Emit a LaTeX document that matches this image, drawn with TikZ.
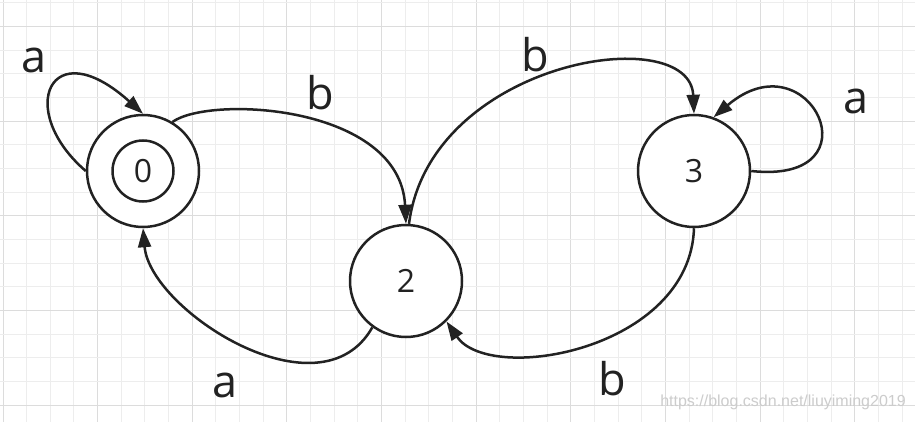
\documentclass[tikz,border=0pt]{standalone}
\usepackage{fontspec}
\setmainfont{Open Sans}
\newfontfamily\wmfont{Liberation Sans}
\usetikzlibrary{arrows.meta}
\definecolor{gridminor}{HTML}{EDEDED}
\definecolor{gridmajor}{HTML}{DCDCDC}
\definecolor{ink}{HTML}{222222}
\definecolor{wmgray}{HTML}{CCCCCC}
\begin{document}
\begin{tikzpicture}[x=1pt,y=-1pt,
  state/.style={circle,draw=ink,line width=2.5pt,fill=white,minimum size=112pt,inner sep=0pt,
    font=\fontsize{32}{32}\selectfont,text=ink},
  accepting/.style={path picture={\draw[ink,line width=2.5pt] (path picture bounding box.center) circle (30.5pt);}},
  edge/.style={draw=ink,line width=2.5pt,-{Triangle[length=19pt,width=13pt]}},
  lbl/.style={font=\fontsize{45}{45}\selectfont,text=ink,inner sep=0pt},
  gridline/.style={line width=1pt}]
\useasboundingbox (0,0) rectangle (915,422);
\fill[white] (0,0) rectangle (915,422);
% grid
\foreach \k in {0,...,38}{
  \pgfmathtruncatemacro\m{mod(\k,4)}
  \ifnum\m=0 \def\gc{gridmajor}\else\def\gc{gridminor}\fi
  \draw[gridline,\gc] ({3+23.66*\k},0) -- ({3+23.66*\k},422);
}
\foreach \k in {0,...,17}{
  \pgfmathtruncatemacro\m{mod(\k,4)}
  \ifnum\m=1 \def\gc{gridmajor}\else\def\gc{gridminor}\fi
  \draw[gridline,\gc] (0,{3+23.66*\k}) -- (915,{3+23.66*\k});
}
% states
\node[state,accepting] (n0) at (143,171) {0};
\node[state] (n2) at (406,281) {2};
\node[state] (n3) at (694,171) {3};
% edges
\draw[edge] (n0.west) .. controls (15,110) and (50,30) .. (n0.north);
\draw[edge] (n0.59) .. controls (210,95) and (400,105) .. (n2.north);
\draw[edge] (n2.87) .. controls (430,60) and (690,20) .. (n3.north);
\draw[edge] (n2.234) .. controls (320,420) and (150,310) .. (n0.south);
\draw[edge] (n3.south) .. controls (690,350) and (490,385) .. (n2.-45);
\draw[edge] (n3.east) .. controls (880,185) and (810,35) .. (n3.70);
% labels
\node[lbl] (la1) at (34,60) {a};
\node[lbl] (lb1) at (320,93) {b};
\node[lbl] (lb2) at (535,55) {b};
\node[lbl] (la2) at (856,101) {a};
\node[lbl] (la3) at (225,385) {a};
\node[lbl] (lb3) at (612,379) {b};
% watermark
\node[font=\wmfont\fontsize{16}{16}\selectfont,text=wmgray,inner sep=0pt] (wm) at (783,402) {https://blog.csdn.net/liuyiming2019};
\end{tikzpicture}
\end{document}
